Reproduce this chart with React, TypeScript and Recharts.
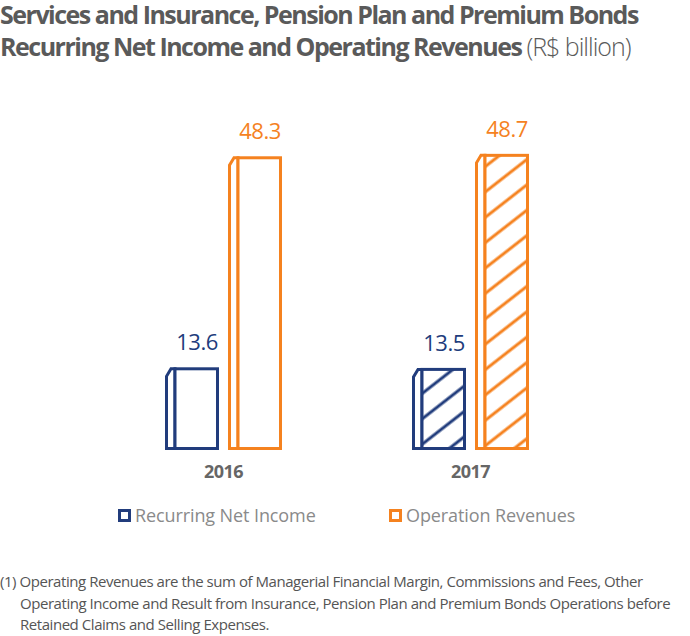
import { BarChart, Bar, XAxis, YAxis, LabelList } from 'recharts';

const YEARS = ['2016', '2017'];
const NET_INCOME = [13.6, 13.5];
const OPERATING_REVENUES = [48.3, 48.7];
const HATCHED_YEARS = ['2017'];

const BLUE = '#213c7c';
const ORANGE = '#f5821f';

const data = YEARS.map((year, i) => ({
  year,
  netIncome: NET_INCOME[i],
  revenues: OPERATING_REVENUES[i],
}));

const SIDE = 10;
const SW = 3;

function makeShape(color: string, hatchId: string) {
  return (props: any) => {
    const { x, y, width, height, payload } = props;
    const bottom = y + height;
    const h = SW / 2;
    const fx = x + SIDE;
    const hatched = HATCHED_YEARS.includes(payload.year);
    const side = `M${x + h},${bottom - h} L${x + h},${y + 9} L${x + 6},${y + h} L${fx},${y + h} L${fx},${bottom - h} Z`;
    return (
      <g>
        <path d={side} fill="#fff" stroke={color} strokeWidth={SW} strokeLinejoin="miter" />
        <rect
          x={fx}
          y={y + h}
          width={width - SIDE - h}
          height={height - SW}
          fill={hatched ? `url(#${hatchId})` : '#fff'}
          stroke={color}
          strokeWidth={SW}
        />
      </g>
    );
  };
}

function makeLabel(color: string) {
  return (props: any) => {
    const { x, y, width, value } = props;
    return (
      <text
        x={x + SIDE + (width - SIDE) / 2}
        y={y - 17}
        textAnchor="middle"
        fill={color}
        fontSize={22}
        fontFamily="Open Sans"
        letterSpacing={-0.5}
      >
        {value}
      </text>
    );
  };
}

const YearTick = (props: any) => {
  const { x, y, payload } = props;
  return (
    <text
      x={x}
      y={y + 20}
      textAnchor="middle"
      fill="#666"
      fontSize={18}
      fontWeight={700}
      fontFamily="Open Sans"
      letterSpacing={-0.5}
    >
      {payload.value}
    </text>
  );
};

const LegendIcon = ({ color }: { color: string }) => (
  <span
    style={{
      display: 'inline-block',
      width: 7,
      height: 7,
      border: `3px solid ${color}`,
      background: '#fff',
      marginRight: 4,
      verticalAlign: 'middle',
      position: 'relative',
      top: -2,
    }}
  />
);

export default function App() {
  return (
    <div
      style={{
        position: 'absolute',
        left: 0,
        top: 0,
        width: 690,
        height: 636,
        background: '#fff',
        fontFamily: 'Open Sans',
        overflow: 'hidden',
      }}
    >
      <div
        style={{
          position: 'absolute',
          left: 0,
          top: 0,
          color: '#5a5a5a',
          fontSize: 25,
          fontWeight: 700,
          letterSpacing: -1.5,
          whiteSpace: 'nowrap',
        }}
      >
        <div style={{ lineHeight: '28px' }}>
          Services and Insurance, Pension Plan and Premium Bonds
        </div>
        <div style={{ lineHeight: '36px' }}>
          Recurring Net Income and Operating Revenues{' '}
          <span style={{ fontWeight: 300, letterSpacing: -1 }}>(R$ billion)</span>
        </div>
      </div>

      <div style={{ position: 'absolute', left: 0, top: 0 }}>
        <BarChart
          width={690}
          height={500}
          data={data}
          margin={{ top: 0, right: 96, left: 100, bottom: 0 }}
          barSize={54}
          barGap={9}
        >
          <defs>
            <pattern
              id="hatchBlue"
              width="20"
              height="20"
              patternUnits="userSpaceOnUse"
              patternTransform="rotate(-38)"
            >
              <rect width="20" height="20" fill="#fff" />
              <line x1="0" y1="10" x2="20" y2="10" stroke={BLUE} strokeWidth={3} />
            </pattern>
            <pattern
              id="hatchOrange"
              width="20"
              height="20"
              patternUnits="userSpaceOnUse"
              patternTransform="rotate(-38)"
            >
              <rect width="20" height="20" fill="#fff" />
              <line x1="0" y1="10" x2="20" y2="10" stroke={ORANGE} strokeWidth={3} />
            </pattern>
          </defs>
          <XAxis
            dataKey="year"
            height={50}
            axisLine={false}
            tickLine={false}
            tick={<YearTick />}
          />
          <YAxis hide domain={[0, 74]} />
          <Bar
            dataKey="netIncome"
            isAnimationActive={false}
            shape={makeShape(BLUE, 'hatchBlue')}
          >
            <LabelList dataKey="netIncome" content={makeLabel(BLUE)} />
          </Bar>
          <Bar
            dataKey="revenues"
            isAnimationActive={false}
            shape={makeShape(ORANGE, 'hatchOrange')}
          >
            <LabelList dataKey="revenues" content={makeLabel(ORANGE)} />
          </Bar>
        </BarChart>
      </div>

      <div
        style={{
          position: 'absolute',
          top: 503,
          left: 118,
          fontSize: 18,
          color: '#8a8a8a',
          letterSpacing: -0.1,
          whiteSpace: 'nowrap',
        }}
      >
        <LegendIcon color={BLUE} />
        Recurring Net Income
      </div>
      <div
        style={{
          position: 'absolute',
          top: 503,
          left: 389,
          fontSize: 18,
          color: '#8a8a8a',
          letterSpacing: -0.1,
          whiteSpace: 'nowrap',
        }}
      >
        <LegendIcon color={ORANGE} />
        Operation Revenues
      </div>

      <div
        style={{
          position: 'absolute',
          top: 571,
          left: 0,
          fontSize: 15,
          lineHeight: '21.5px',
          color: '#555',
          letterSpacing: -0.45,
          whiteSpace: 'nowrap',
        }}
      >
        <div>(1) Operating Revenues are the sum of Managerial Financial Margin, Commissions and Fees, Other</div>
        <div style={{ paddingLeft: 20 }}>
          Operating Income and Result from Insurance, Pension Plan and Premium Bonds Operations before
        </div>
        <div style={{ paddingLeft: 20 }}>Retained Claims and Selling Expenses.</div>
      </div>
    </div>
  );
}
